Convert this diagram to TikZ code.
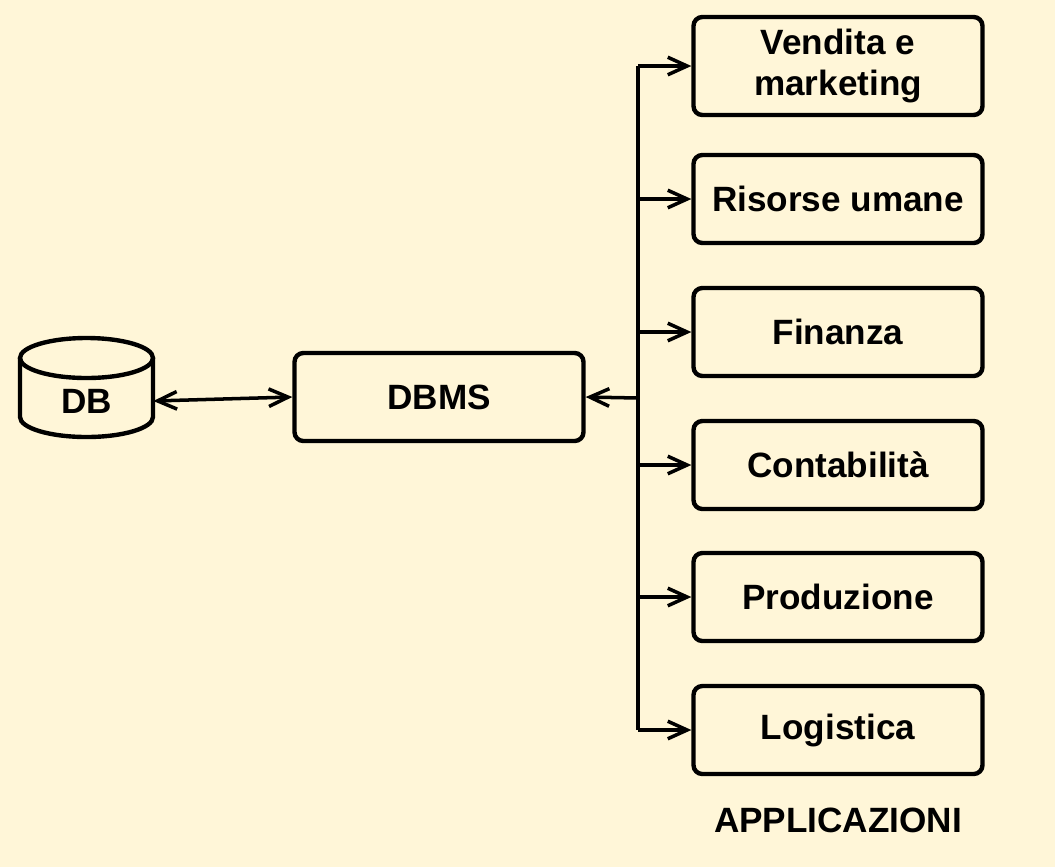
\documentclass[tikz,border=0pt]{standalone}
\usepackage{fontspec}
\setmainfont{Liberation Sans}
\usepackage{xcolor}
\usetikzlibrary{arrows.meta,positioning}
\definecolor{bgcream}{RGB}{255,246,216}
\tikzset{>={Straight Barb[length=11pt,width=10pt]}}
\tikzset{
  appbox/.style={draw,line width=2.5pt,rounded corners=5pt,minimum width=5.78cm,minimum height=1.76cm,
    font=\bfseries\fontsize{20}{22.8}\selectfont,align=center},
  link/.style={line width=2pt}
}

\begin{document}
\begin{tikzpicture}[x=0.02cm,y=-0.02cm]

            \fill[bgcream] (0,0) rectangle (1055,867);
            \useasboundingbox (0,0) rectangle (1055,867);

            % DB cylinder
            \draw[line width=2.5pt] (20,358) -- (20,417) arc[start angle=180,end angle=0,x radius=66.5,y radius=20] -- (153,358);
            \draw[line width=2.5pt] (86.5,358) ellipse[x radius=66.5,y radius=20];
            \node[minimum width=2.66cm,inner sep=0pt,font=\bfseries\fontsize{20}{22.8}\selectfont] (db) at (86.5,401) {DB};

            \node[appbox] (dbms) at (439,397) {DBMS};
            \coordinate (hub) at (638,398);

            \node[appbox,minimum height=1.96cm] (vend) at (838,66) {Vendita e\\marketing};
            \foreach \name/\ypos/\txt in {ris/199/Risorse umane,fin/332/Finanza,cont/465/Contabilità,prod/597/Produzione,log/730/Logistica}
              {
                \node[appbox] (\name) at (838,\ypos) {\txt};
              }
            \foreach \name in {vend,ris,fin,cont,prod,log}
              {
                \draw[link,->] (\name.west -| hub) -- (\name.west);
              }
            \draw[link] (vend.west -| hub) -- (log.west -| hub);
            \draw[link,->] (hub) -- (dbms.east);
            \draw[link,<->] (db.east) -- (dbms.west);

            \node[font=\bfseries\fontsize{20}{22.8}\selectfont] (appl) at (838,820) {APPLICAZIONI};
          \end{tikzpicture}
\end{document}
